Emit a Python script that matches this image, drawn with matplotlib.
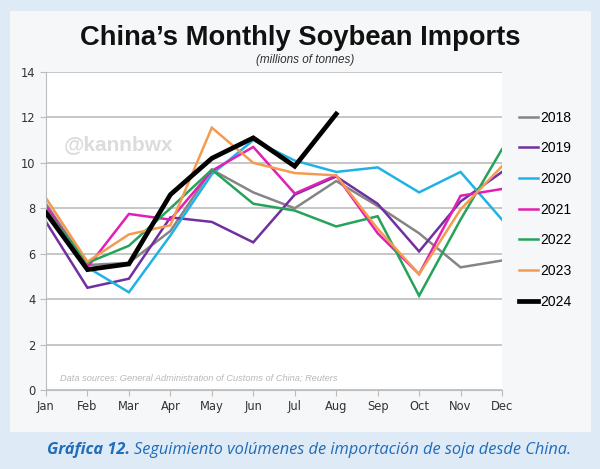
import matplotlib
matplotlib.use('Agg')
import matplotlib.pyplot as plt
from matplotlib.patches import Rectangle

# Datos (millones de toneladas)
months = ['Jan', 'Feb', 'Mar', 'Apr', 'May', 'Jun', 'Jul', 'Aug', 'Sep', 'Oct', 'Nov', 'Dec']
y2018 = [8.2, 5.5, 5.6, 7.0, 9.7, 8.7, 8.0, 9.2, 8.1, 6.9, 5.4, 5.7]
y2019 = [7.4, 4.5, 4.9, 7.6, 7.4, 6.5, 8.6, 9.4, 8.2, 6.1, 8.3, 9.6]
y2020 = [8.0, 5.4, 4.3, 6.8, 9.5, 11.0, 10.1, 9.6, 9.8, 8.7, 9.6, 7.5]
y2021 = [8.1, 5.4, 7.75, 7.5, 9.65, 10.7, 8.65, 9.45, 6.9, 5.1, 8.55, 8.85]
y2022 = [7.9, 5.6, 6.35, 8.0, 9.7, 8.2, 7.9, 7.2, 7.65, 4.15, 7.5, 10.6]
y2023 = [8.45, 5.65, 6.85, 7.25, 11.55, 10.0, 9.55, 9.45, 7.1, 5.1, 7.95, 9.85]
y2024 = [7.8, 5.3, 5.55, 8.6, 10.2, 11.1, 9.85, 12.15]

series = {'2018': y2018, '2019': y2019, '2020': y2020, '2021': y2021,
          '2022': y2022, '2023': y2023, '2024': y2024}
colors = {'2018': '#858585', '2019': '#7030a0', '2020': '#20b2e6', '2021': '#e21fb4',
          '2022': '#25a35a', '2023': '#f59b4f', '2024': '#000000'}

fig = plt.figure(figsize=(6, 4.69), dpi=100)
fig.patch.set_facecolor('#dfeaf7')

# panel blanco de fondo
panel = Rectangle((10 / 600, 1 - 432 / 469), 581 / 600, 421 / 469,
                  transform=fig.transFigure, facecolor='#f6f7f8', edgecolor='none', zorder=-10)
fig.patches.append(panel)

ax = fig.add_axes([46 / 600, (469 - 390) / 469, 456 / 600, 318 / 469])
ax.set_facecolor('white')

x = list(range(12))
for name, vals in series.items():
    lw = 3.4 if name == '2024' else 1.8
    ax.plot(x[:len(vals)], vals, color=colors[name], lw=lw, label=name,
            solid_joinstyle='miter', zorder=3 if name == '2024' else 2)

ax.set_xlim(0, 11)
ax.set_ylim(0, 14)
ax.set_yticks(range(0, 15, 2))
ax.set_xticks(x)
ax.set_xticklabels(months)
ax.grid(axis='y', color='#bcbcbc', lw=1.2)
ax.set_axisbelow(True)
for s in ['top', 'right']:
    ax.spines[s].set_visible(False)
ax.spines['left'].set_color('#bcbcbc')
ax.spines['bottom'].set_color('#bcbcbc')
ax.tick_params(axis='both', colors='#bcbcbc', labelcolor='#333333', labelsize=8.3, length=4)

ax.text(0.04, 0.755, '@kannbwx', transform=ax.transAxes, fontsize=15, fontweight='bold',
        color='#dcdcdc', family='Liberation Sans')
ax.text(0.03, 0.03, 'Data sources: General Administration of Customs of China; Reuters',
        transform=ax.transAxes, fontsize=6.7, style='italic', color='#b8b8b8',
        family='Liberation Sans')

fig.text(0.5, 1 - 38 / 469, 'China\u2019s Monthly Soybean Imports', ha='center', va='center',
         fontsize=19.7, fontweight='bold', family='Liberation Sans', color='#111111')
fig.text(0.508, 1 - 60 / 469, '(millions of tonnes)', ha='center', va='center',
         fontsize=8.5, style='italic', family='Liberation Sans', color='#333333')

handles, labels = ax.get_legend_handles_labels()
fig.legend(handles, labels, loc='upper left', bbox_to_anchor=(506 / 600, 1 - 98 / 469),
           frameon=False, handlelength=1.4, handletextpad=0.15,
           labelspacing=1.2, prop={'family': 'Liberation Sans', 'size': 10})

# pie de gráfico
renderer = fig.canvas.get_renderer()
cap_y = 1 - 450 / 469
t1 = fig.text(47 / 600, cap_y, 'Gráfica 12.', ha='left', va='center', fontsize=11.8,
              fontweight='bold', style='italic', family='Open Sans', color='#1f6cb8')
bb = t1.get_window_extent(renderer)
fig.text(bb.x1 / fig.bbox.width + 0.006, cap_y,
         'Seguimiento volúmenes de importación de soja desde China.', ha='left', va='center',
         fontsize=11.8, style='italic', family='Open Sans', color='#1f6cb8')

fig.savefig('out.png', dpi=100, facecolor=fig.get_facecolor())
